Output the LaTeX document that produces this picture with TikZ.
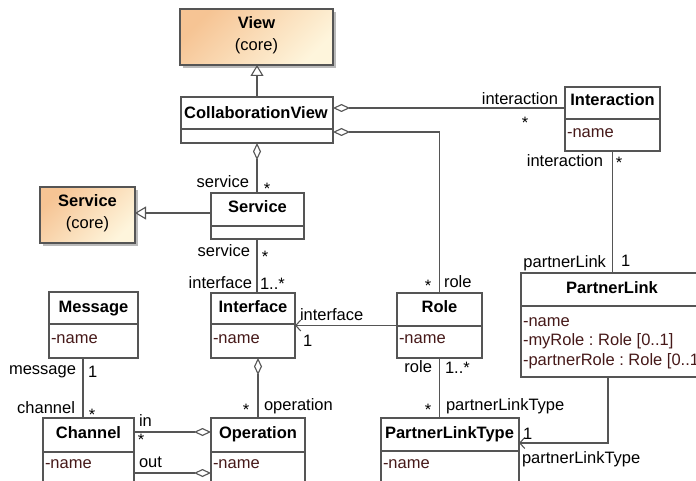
\documentclass[tikz,border=0pt]{standalone}
\usepackage{fontspec}
\setmainfont{Liberation Sans}
\usetikzlibrary{arrows.meta,shadows}
\definecolor{lc}{RGB}{85,85,85}
\definecolor{attr}{RGB}{70,25,25}
\definecolor{coreA}{RGB}{246,196,148}
\definecolor{coreB}{RGB}{254,245,220}
\frenchspacing
\begin{document}
\begin{tikzpicture}[x=1pt,y=-1pt,
  every node/.style={font=\fontsize{16.5}{19}\selectfont, inner sep=0pt, outer sep=0pt},
  cls/.style={draw=lc, line width=1.3pt, fill=white, anchor=north west},
  core/.style={draw=lc, line width=1.3pt, anchor=north west, left color=coreA, right color=coreB, shading angle=45,
    drop shadow={shadow xshift=3pt, shadow yshift=-3pt, fill=black!45, opacity=0.6}},
  cn/.style={font=\fontsize{16.5}{19}\selectfont\bfseries, anchor=base},
  cr/.style={anchor=base},
  attrib/.style={text=attr, anchor=base west},
  lbE/.style={anchor=base east},
  lbW/.style={anchor=base west},
  lbC/.style={anchor=base},
  divline/.style={draw=lc, line width=1.3pt},
  conn/.style={draw=lc, line width=1.1pt},
  agg/.style={conn, {Diamond[open, length=17pt, width=8pt]}-},
  aggE/.style={conn, -{Diamond[open, length=17pt, width=8pt]}},
  inh/.style={conn, -{Triangle[open, length=11pt, width=13pt]}},
  nav/.style={conn, -{Straight Barb[length=5pt, width=11pt]}}
]
\fill[white] (0,0) rectangle (696,481);
\useasboundingbox (0,0) rectangle (696,481);

% ---------- classes ----------
\node[core, minimum width=153pt, minimum height=56pt] (view) at (180,9) {};
\node[cn] (viewN) at (256.5,29) {View};
\node[cr] (viewC) at (256.5,51) {(core)};

\node[cls, minimum width=152pt, minimum height=46pt] (collab) at (181,97) {};
\draw[divline] ([yshift=-32pt]collab.north west) -- ([yshift=-32pt]collab.north east);
\node[cn] (collabN) at (256,119) {CollaborationView};

\node[cls, minimum width=95pt, minimum height=64pt] (interaction) at (565,87) {};
\draw[divline] ([yshift=-32pt]interaction.north west) -- ([yshift=-32pt]interaction.north east);
\node[cn] (interactionN) at (612.5,106) {Interaction};
\node[attrib] (interactionA) at (567,138) {-name};

\node[core, minimum width=95pt, minimum height=56pt] (score) at (40,187) {};
\node[cn] (scoreN) at (87.5,207) {Service};
\node[cr] (scoreC) at (87.5,229) {(core)};

\node[cls, minimum width=93pt, minimum height=46pt] (service) at (211,193) {};
\draw[divline] ([yshift=-33pt]service.north west) -- ([yshift=-33pt]service.north east);
\node[cn] (serviceN) at (257.5,213) {Service};

\node[cls, minimum width=89pt, minimum height=66pt] (message) at (49,292) {};
\draw[divline] ([yshift=-32pt]message.north west) -- ([yshift=-32pt]message.north east);
\node[cn] (messageN) at (93.5,312) {Message};
\node[attrib] (messageA) at (51,343) {-name};

\node[cls, minimum width=84pt, minimum height=65pt] (iface) at (211,293) {};
\draw[divline] ([yshift=-31pt]iface.north west) -- ([yshift=-31pt]iface.north east);
\node[cn] (ifaceN) at (253,312) {Interface};
\node[attrib] (ifaceA) at (213,343) {-name};

\node[cls, minimum width=85pt, minimum height=65pt] (role) at (397,293) {};
\draw[divline] ([yshift=-33pt]role.north west) -- ([yshift=-33pt]role.north east);
\node[cn] (roleN) at (439.5,312) {Role};
\node[attrib] (roleA) at (399,343) {-name};

\node[cls, minimum width=182pt, minimum height=104pt] (plink) at (521,273) {};
\draw[divline] ([yshift=-33pt]plink.north west) -- ([yshift=-33pt]plink.north east);
\node[cn] (plinkN) at (612,293) {PartnerLink};
\node[attrib] (plinkA1) at (523,326) {-name};
\node[attrib] (plinkA2) at (523,345.5) {-myRole : Role [0..1]};
\node[attrib] (plinkA3) at (523,365) {-partnerRole : Role [0..1]};

\node[cls, minimum width=91pt, minimum height=80pt] (channel) at (43,418) {};
\draw[divline] ([yshift=-34pt]channel.north west) -- ([yshift=-34pt]channel.north east);
\node[cn] (channelN) at (88.5,438) {Channel};
\node[attrib] (channelA) at (45,468) {-name};

\node[cls, minimum width=94pt, minimum height=80pt] (op) at (211,418) {};
\draw[divline] ([yshift=-34pt]op.north west) -- ([yshift=-34pt]op.north east);
\node[cn] (opN) at (258,438) {Operation};
\node[attrib] (opA) at (213,468) {-name};

\node[cls, minimum width=138pt, minimum height=80pt] (plt) at (381,418) {};
\draw[divline] ([yshift=-33pt]plt.north west) -- ([yshift=-33pt]plt.north east);
\node[cn] (pltN) at (449.5,438) {PartnerLinkType};
\node[attrib] (pltA) at (383,468) {-name};

% ---------- connectors ----------
\draw[inh] (collab.north) -- (collab.north |- view.south);

\coordinate (c1) at ([yshift=-11pt]collab.north east);
\draw[agg] (c1) -- (c1 -| interaction.west);
\coordinate (c2) at ([yshift=-35pt]collab.north east);
\draw[agg] (c2) -| (role.north);

\draw[agg] (collab.south) -- (collab.south |- service.north);
\draw[inh] ([yshift=3pt]service.west) -- ([yshift=3pt]service.west -| score.east);

\coordinate (s1) at ([xshift=-0.5pt]service.south);
\draw[conn] (s1) -- (s1 |- iface.north);
\draw[agg] (op.north |- iface.south) -- (op.north);

\draw[nav] (role.west) -- (role.west -| iface.east);
\draw[conn] (role.south) -- (role.south |- plt.north);

\draw[conn] (interaction.south) -- (interaction.south |- plink.north);
\coordinate (p1) at ([yshift=-25pt]plt.north east);
\draw[nav] ([xshift=-4pt]plink.south) |- (p1);

\coordinate (m1) at ([xshift=-10.5pt]message.south);
\draw[conn] (m1) -- (m1 |- channel.north);

\coordinate (ch1) at ([yshift=-14pt]channel.north east);
\draw[aggE] (ch1) -- (ch1 -| op.west);
\coordinate (ch2) at ([yshift=-55pt]channel.north east);
\draw[aggE] (ch2) -- (ch2 -| op.west);

% ---------- role labels ----------
\node[lbE] (l1) at (558,105) {interaction};
\node[lbC] (l2) at (525,129) {*};
\node[lbE] (l3) at (603,167) {interaction};
\node[lbC] (l4) at (619,169) {*};
\node[lbE] (l5) at (606,267) {partnerLink};
\node[lbW] (l6) at (621,266) {1};
\node[lbC] (l7) at (428,291) {*};
\node[lbW] (l8) at (444,287) {role};
\node[lbE] (l9) at (432,372) {role};
\node[lbW] (l10) at (445,373) {1..*};
\node[lbC] (l11) at (428,415) {*};
\node[lbW] (l12) at (446,410) {partnerLinkType};
\node[lbW] (l13) at (523,439) {1};
\node[lbW] (l14) at (522,463) {partnerLinkType};
\node[lbW] (l15) at (300,320) {interface};
\node[lbW] (l16) at (303,346) {1};
\node[lbE] (l17) at (249,188) {service};
\node[lbC] (l18) at (267,195) {*};
\node[lbE] (l19) at (250,256) {service};
\node[lbC] (l20) at (265,262) {*};
\node[lbE] (l21) at (252,288) {interface};
\node[lbW] (l22) at (260,289) {1..*};
\node[lbE] (l23) at (76,374) {message};
\node[lbW] (l24) at (88,377) {1};
\node[lbE] (l25) at (75,413) {channel};
\node[lbC] (l26) at (92,420) {*};
\node[lbW] (l27) at (139,426) {in};
\node[lbC] (l28) at (141,445) {*};
\node[lbW] (l29) at (139,467) {out};
\node[lbC] (l30) at (246,415) {*};
\node[lbW] (l31) at (264,410) {operation};
\end{tikzpicture}
\end{document}
